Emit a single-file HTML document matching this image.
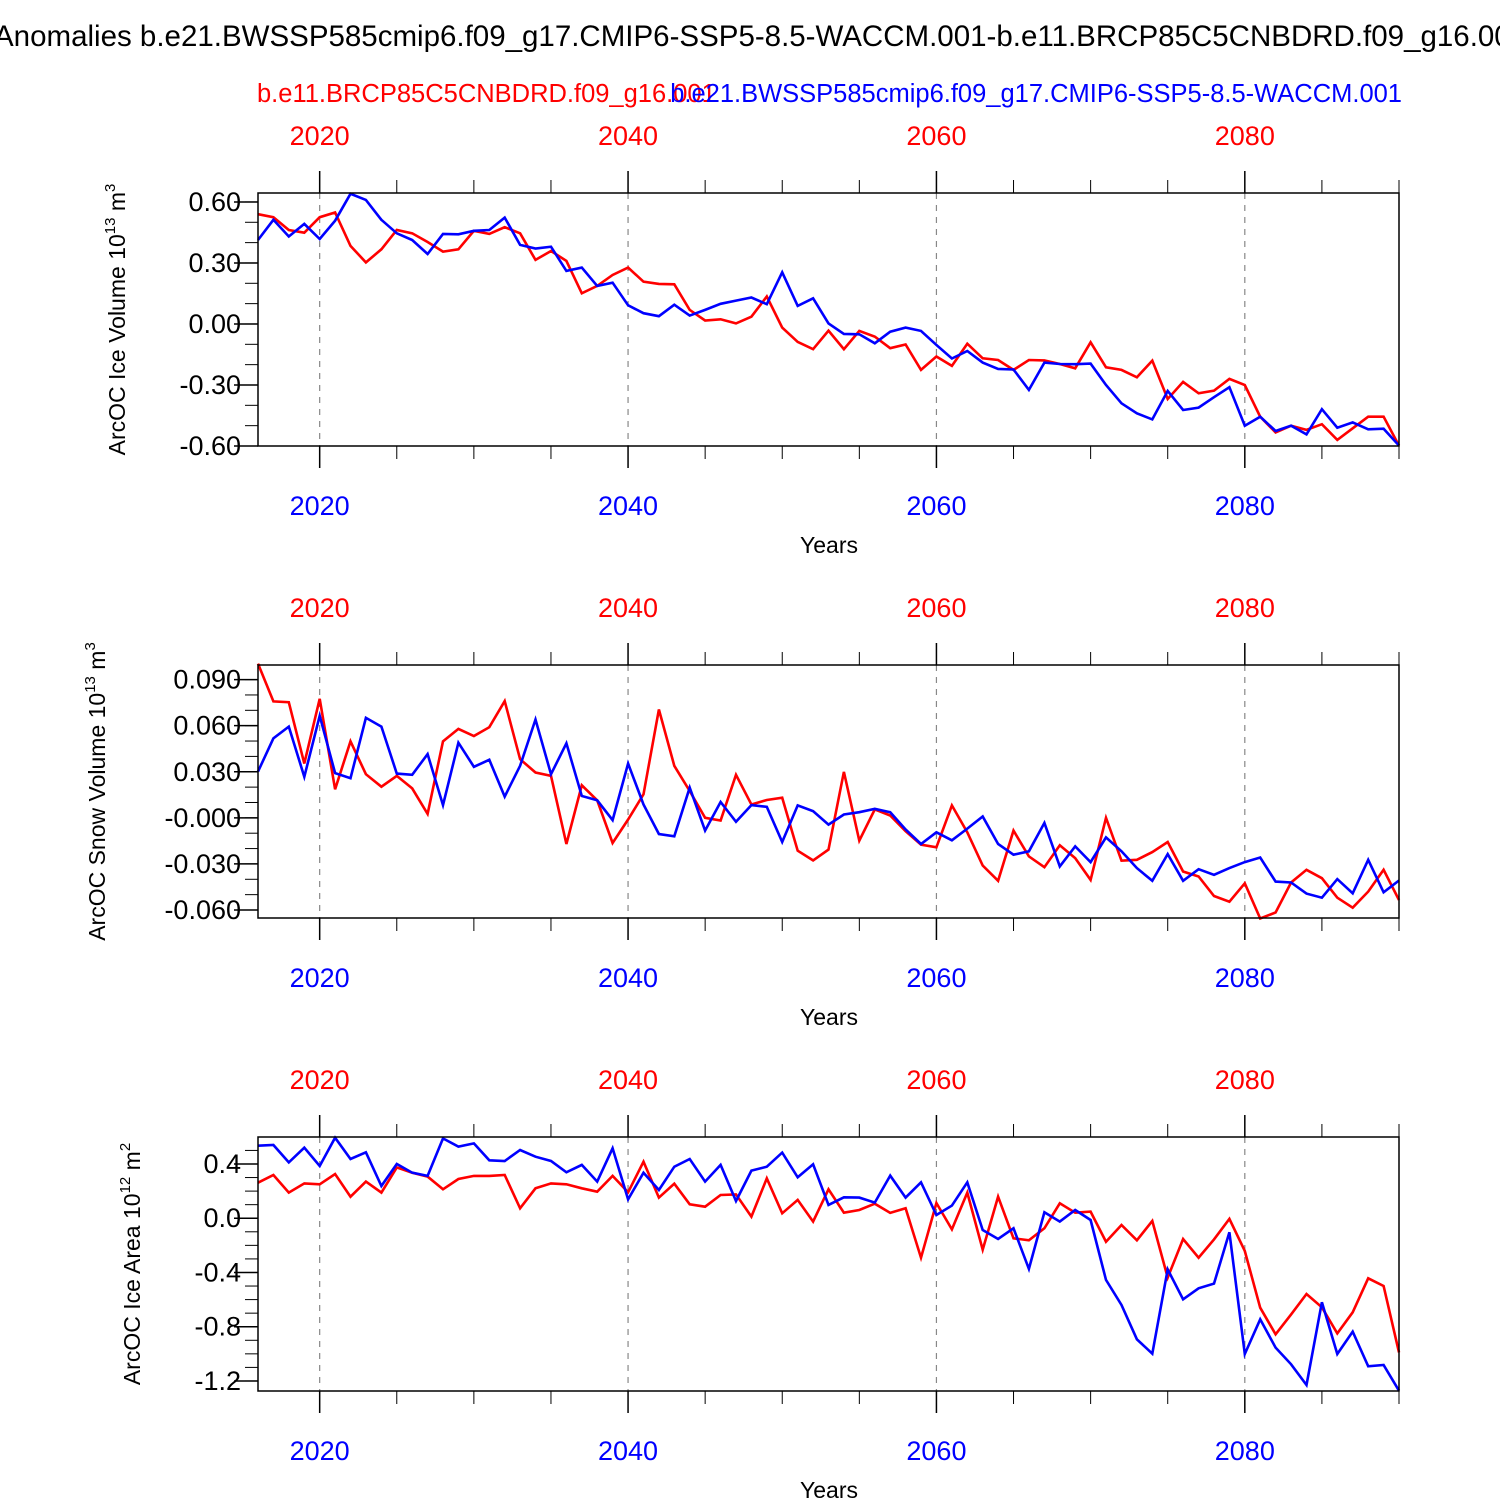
<!DOCTYPE html>
<html><head><meta charset="utf-8"><style>
html,body{margin:0;padding:0;background:#fff;width:1500px;height:1500px;overflow:hidden}
svg text{font-family:"Liberation Sans",sans-serif}
</style></head><body>
<svg id="chart" xmlns="http://www.w3.org/2000/svg" width="1500" height="1500" viewBox="0 0 1500 1500">
<text x="-6" y="46" font-size="29.5" fill="#000">Anomalies b.e21.BWSSP585cmip6.f09_g17.CMIP6-SSP5-8.5-WACCM.001-b.e11.BRCP85C5CNBDRD.f09_g16.001</text>
<text x="257" y="102" font-size="25.5" fill="#ff0000">b.e11.BRCP85C5CNBDRD.f09_g16.001</text>
<text x="1402" y="102" font-size="25.5" fill="#0000ff" text-anchor="end">b.e21.BWSSP585cmip6.f09_g17.CMIP6-SSP5-8.5-WACCM.001</text>
</svg>
<script>
const years=[];for(let y=2016;y<=2090;y++)years.push(y);
const xTicks=[2020,2040,2060,2080];
const iceVolBlue=[0.413,0.512,0.430,0.492,0.418,0.508,0.640,0.610,0.512,0.446,0.413,0.344,0.443,0.441,0.458,0.462,0.523,0.389,0.371,0.380,0.261,0.277,0.187,0.203,0.092,0.053,0.038,0.095,0.041,0.069,0.099,0.115,0.130,0.097,0.254,0.089,0.126,0.003,-0.049,-0.051,-0.095,-0.038,-0.018,-0.034,-0.103,-0.170,-0.133,-0.190,-0.221,-0.224,-0.324,-0.190,-0.197,-0.198,-0.195,-0.300,-0.390,-0.439,-0.469,-0.329,-0.423,-0.411,-0.360,-0.311,-0.500,-0.456,-0.526,-0.500,-0.543,-0.419,-0.510,-0.484,-0.518,-0.515,-0.598];
const iceVolRed=[0.540,0.525,0.462,0.449,0.525,0.548,0.384,0.303,0.367,0.462,0.446,0.403,0.356,0.367,0.458,0.443,0.476,0.446,0.315,0.359,0.310,0.151,0.187,0.241,0.277,0.208,0.197,0.195,0.069,0.017,0.023,0.003,0.036,0.135,-0.018,-0.088,-0.124,-0.033,-0.124,-0.034,-0.062,-0.119,-0.101,-0.226,-0.160,-0.206,-0.097,-0.169,-0.177,-0.226,-0.177,-0.179,-0.197,-0.218,-0.090,-0.213,-0.226,-0.262,-0.180,-0.369,-0.285,-0.341,-0.328,-0.270,-0.300,-0.456,-0.533,-0.500,-0.521,-0.493,-0.570,-0.513,-0.456,-0.456,-0.598];
const snowBlue=[0.0301,0.0518,0.0594,0.0267,0.0664,0.0291,0.0258,0.0651,0.0594,0.0288,0.0280,0.0415,0.0083,0.0489,0.0332,0.0378,0.0138,0.0339,0.0640,0.0284,0.0485,0.0142,0.0114,-0.0015,0.0354,0.0087,-0.0105,-0.0120,0.0197,-0.0083,0.0103,-0.0026,0.0083,0.0072,-0.0157,0.0081,0.0044,-0.0044,0.0022,0.0037,0.0059,0.0037,-0.0076,-0.0170,-0.0094,-0.0146,-0.0070,0.0009,-0.0170,-0.0240,-0.0218,-0.0033,-0.0316,-0.0185,-0.0288,-0.0127,-0.0218,-0.0327,-0.0410,-0.0236,-0.0410,-0.0334,-0.0371,-0.0327,-0.0288,-0.0258,-0.0415,-0.0421,-0.0493,-0.0520,-0.0399,-0.0491,-0.0273,-0.0485,-0.0408];
const snowRed=[0.1004,0.0758,0.0753,0.0354,0.0775,0.0186,0.0498,0.0284,0.0203,0.0273,0.0192,0.0026,0.0498,0.0579,0.0533,0.0590,0.0760,0.0382,0.0295,0.0273,-0.0170,0.0212,0.0114,-0.0164,-0.0011,0.0153,0.0705,0.0339,0.0175,0.0000,-0.0017,0.0280,0.0087,0.0116,0.0131,-0.0214,-0.0277,-0.0207,0.0299,-0.0148,0.0055,0.0015,-0.0087,-0.0175,-0.0192,0.0081,-0.0094,-0.0310,-0.0410,-0.0083,-0.0251,-0.0321,-0.0179,-0.0262,-0.0404,0.0000,-0.0279,-0.0273,-0.0223,-0.0157,-0.0349,-0.0382,-0.0509,-0.0546,-0.0426,-0.0655,-0.0616,-0.0421,-0.0338,-0.0393,-0.0520,-0.0585,-0.0480,-0.0338,-0.0535];
const areaBlue=[0.535,0.540,0.412,0.520,0.385,0.594,0.437,0.486,0.238,0.400,0.336,0.312,0.589,0.528,0.552,0.427,0.422,0.503,0.454,0.422,0.339,0.393,0.270,0.516,0.139,0.336,0.208,0.380,0.437,0.270,0.393,0.127,0.351,0.380,0.484,0.302,0.398,0.098,0.154,0.152,0.115,0.314,0.152,0.265,0.024,0.093,0.265,-0.087,-0.153,-0.074,-0.374,0.044,-0.025,0.061,-0.013,-0.455,-0.640,-0.893,-0.999,-0.377,-0.598,-0.517,-0.482,-0.104,-1.001,-0.745,-0.954,-1.077,-1.230,-0.620,-1.001,-0.836,-1.092,-1.082,-1.272];
const areaRed=[0.262,0.319,0.189,0.257,0.250,0.326,0.159,0.270,0.189,0.375,0.336,0.307,0.213,0.289,0.312,0.312,0.319,0.073,0.221,0.257,0.250,0.221,0.196,0.312,0.191,0.417,0.152,0.255,0.103,0.085,0.171,0.176,0.012,0.294,0.036,0.135,-0.025,0.213,0.041,0.061,0.107,0.039,0.073,-0.291,0.112,-0.082,0.189,-0.232,0.159,-0.148,-0.163,-0.074,0.110,0.041,0.049,-0.173,-0.050,-0.163,-0.020,-0.438,-0.153,-0.291,-0.156,-0.005,-0.242,-0.660,-0.856,-0.709,-0.559,-0.657,-0.849,-0.694,-0.443,-0.500,-0.989];
const iceTicks=[0.6,0.3,0,-0.3,-0.6];
const iceTickLabels=["0.60","0.30","0.00","-0.30","-0.60"];
const snowTicks=[0.09,0.06,0.03,0,-0.03,-0.06];
const snowTickLabels=["0.090","0.060","0.030","-0.000","-0.030","-0.060"];
const areaTicks=[0.4,0,-0.4,-0.8,-1.2];
const areaTickLabels=["0.4","0.0","-0.4","-0.8","-1.2"];

const NS="http://www.w3.org/2000/svg";
const svg=document.getElementById('chart');
const X0=258,X1=1399,YR0=2016,YR1=2090;
function xs(yr){return X0+(yr-YR0)/(YR1-YR0)*(X1-X0);}
function mk(tag,attrs,parent){const e=document.createElementNS(NS,tag);for(const k in attrs)e.setAttribute(k,attrs[k]);(parent||svg).appendChild(e);return e;}

function panel(p){
  const g=mk('g',{});
  
  
  const ys=v=>p.top+(p.vmax-v)/(p.vmax-p.vmin)*(p.bot-p.top);
  xTicks.forEach(t=>{const l=mk('line',{x1:xs(t),x2:xs(t),y1:p.top,y2:p.bot,stroke:'#888','stroke-width':1.2,'stroke-dasharray':'6,6'},g);
    
    });
  for(let yr=2020;yr<=2090;yr+=5){
    const major=xTicks.includes(yr);const len=major?22:13;const x=xs(yr);
    mk('line',{x1:x,x2:x,y1:p.top,y2:p.top-len,stroke:'#000','stroke-width':major?1.5:1},g);
    mk('line',{x1:x,x2:x,y1:p.bot,y2:p.bot+len,stroke:'#000','stroke-width':major?1.5:1},g);
  }
  xTicks.forEach(t=>{
    const a=mk('text',{x:xs(t),y:p.top-48,'font-size':27,fill:'#ff0000','text-anchor':'middle'},g);a.textContent=t;
    
    
    const b=mk('text',{x:xs(t),y:p.bot+69,'font-size':27,fill:'#0000ff','text-anchor':'middle'},g);b.textContent=t;
    
    
  });
  const xt=mk('text',{x:829,y:p.bot+107,'font-size':23,fill:'#000','text-anchor':'middle'},g);xt.textContent='Years';
  
  
  const mv=Math.ceil(p.vmin/p.minor-1e-6)*p.minor;
  for(let v=mv;v<=p.vmax+1e-9;v+=p.minor){mk('line',{x1:X0,x2:X0-13,y1:ys(v),y2:ys(v),stroke:'#000','stroke-width':1},g);}
  p.ticks.forEach((t,i)=>{
    mk('line',{x1:X0,x2:X0-24,y1:ys(t),y2:ys(t),stroke:'#000','stroke-width':1.5},g);
    const tx=mk('text',{x:X0-17,y:ys(t)+9,'font-size':27,fill:'#000','text-anchor':'end'},g);tx.textContent=p.labels[i];
    
    
  });
  const yt=mk('text',{x:0,y:0,'font-size':23,fill:'#000','text-anchor':'middle',transform:`translate(${p.titleX},${(p.top+p.bot)/2}) rotate(-90)`},g);
  yt.innerHTML=p.title;
  
  
  [[p.red,'#ff0000','red-series'],[p.blue,'#0000ff','blue-series']].forEach(([d,c,n])=>{
    const pts=d.map((v,i)=>xs(years[i]).toFixed(1)+','+ys(v).toFixed(1)).join(' ');
    const pl=mk('polyline',{points:pts,fill:'none',stroke:c,'stroke-width':2.6,'stroke-linejoin':'miter'},g);
    
    
  });
  const fr=mk('rect',{x:X0,y:p.top,width:X1-X0,height:p.bot-p.top,fill:'none',stroke:'#000','stroke-width':1.5},g);
  
  
}
panel({name:'ice-volume-panel',top:193,bot:446,vmax:0.644,vmin:-0.6,minor:0.1,ticks:iceTicks,labels:iceTickLabels,red:iceVolRed,blue:iceVolBlue,titleX:125,
  title:'ArcOC Ice Volume 10<tspan dy="-10" font-size="15">13</tspan><tspan dy="10"> m</tspan><tspan dy="-10" font-size="15">3</tspan>'});
panel({name:'snow-volume-panel',top:665,bot:918,vmax:0.0995,vmin:-0.0652,minor:0.01,ticks:snowTicks,labels:snowTickLabels,red:snowRed,blue:snowBlue,titleX:105,
  title:'ArcOC Snow Volume 10<tspan dy="-10" font-size="15">13</tspan><tspan dy="10"> m</tspan><tspan dy="-10" font-size="15">3</tspan>'});
panel({name:'ice-area-panel',top:1137,bot:1391,vmax:0.599,vmin:-1.274,minor:0.1,ticks:areaTicks,labels:areaTickLabels,red:areaRed,blue:areaBlue,titleX:140,
  title:'ArcOC Ice Area 10<tspan dy="-10" font-size="15">12</tspan><tspan dy="10"> m</tspan><tspan dy="-10" font-size="15">2</tspan>'});
</script>
</body></html>
